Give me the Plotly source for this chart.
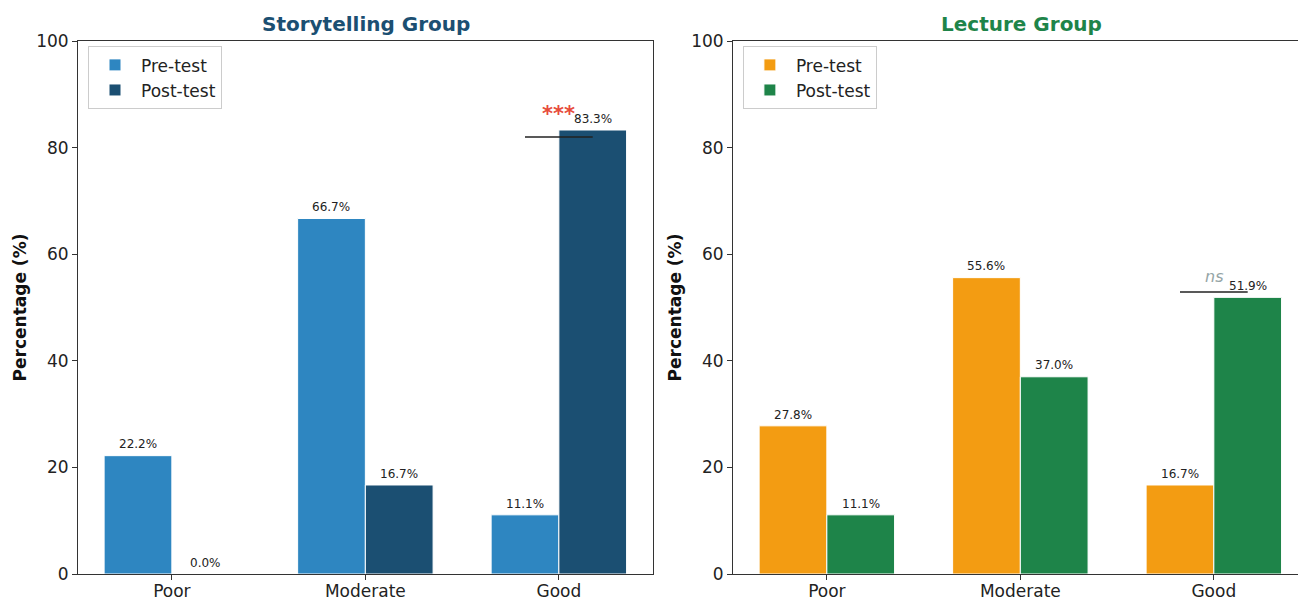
import plotly.graph_objects as go

# ---- data ----
categories = ["Poor", "Moderate", "Good"]
story_pre = [22.2, 66.7, 11.1]
story_post = [0.0, 16.7, 83.3]
lecture_pre = [27.8, 55.6, 16.7]
lecture_post = [11.1, 37.0, 51.9]
y_ticks = [0, 20, 40, 60, 80, 100]

panel_titles = ["Storytelling Group", "Lecture Group"]
series_names = ["Pre-test", "Post-test"]

# significance annotations: (category, line level, text level, label)
sig_category = ["Good", "Good"]
sig_line_level = [82.0, 52.9]
sig_text_level = [83.6, 53.6]
sig_labels = ["***", "ns"]

# ---- styles ----
FONT = "DejaVu Sans"
AX = "#333333"
colors = [("#2E86C1", "#1B4F72"), ("#F39C12", "#1E8449")]
title_colors = ["#1B4F72", "#1E8449"]
sig_styles = [dict(size=21, color="#E74C3C", bold=True, italic=False),
              dict(size=16, color="#95A5A6", bold=False, italic=True)]
BW = 0.35

idx = list(range(len(categories)))
fig = go.Figure()

panels = [(story_pre, story_post), (lecture_pre, lecture_post)]
axes = [("x", "y", "legend"), ("x2", "y2", "legend2")]
annotations = []

for p, ((pre, post), (xa, ya, lg)) in enumerate(zip(panels, axes)):
    for s, (vals, off) in enumerate([(pre, -BW), (post, 0.0)]):
        fig.add_trace(go.Bar(
            x=idx, y=vals, width=BW, offset=off,
            name=series_names[s], legend=lg,
            marker=dict(color=colors[p][s], line=dict(color="white", width=1)),
            xaxis=xa, yaxis=ya, showlegend=True,
        ))
        for i, v in zip(idx, vals):
            annotations.append(dict(
                x=i + off + BW / 2, y=v + 1, xref=xa, yref=ya,
                text=f"{v:.1f}%", showarrow=False, yanchor="bottom", yshift=-3,
                font=dict(size=12, color="#222222", family=FONT),
            ))
    # significance marker
    ci = categories.index(sig_category[p])
    fig.add_trace(go.Scatter(
        x=[ci - BW / 2, ci + BW / 2], y=[sig_line_level[p]] * 2,
        mode="lines", line=dict(color="#222222", width=1.6),
        xaxis=xa, yaxis=ya, showlegend=False, hoverinfo="skip",
    ))
    st = sig_styles[p]
    txt = sig_labels[p]
    if st["bold"]:
        txt = f"<b>{txt}</b>"
    if st["italic"]:
        txt = f"<i>{txt}</i>"
    annotations.append(dict(
        x=ci, y=sig_text_level[p], xref=xa, yref=ya, text=txt,
        showarrow=False, yanchor="bottom",
        font=dict(size=st["size"], color=st["color"], family=FONT),
    ))

# panel titles
title_x = [0.2357, 0.7735]
for t, tx, tc in zip(panel_titles, title_x, title_colors):
    annotations.append(dict(
        x=tx, y=1.0325, xref="paper", yref="paper", text=f"<b>{t}</b>",
        showarrow=False, yanchor="middle", xanchor="center",
        font=dict(size=20, color=tc, family=FONT),
    ))

xcommon = dict(tickvals=idx, ticktext=categories, showline=True, linecolor=AX,
               linewidth=1, mirror=True, ticks="outside", ticklen=5,
               tickcolor=AX, tickfont=dict(size=17, color="#222222"),
               ticklabelstandoff=-3,
               showgrid=False, zeroline=False, fixedrange=True, automargin=False)
ycommon = dict(range=[0, 100], tickvals=y_ticks, showline=True, linecolor=AX,
               linewidth=1, ticks="outside", ticklen=5, tickcolor=AX,
               tickfont=dict(size=17, color="#222222"), showgrid=False,
               zeroline=False, automargin=False,
               title=dict(text="<b>Percentage (%)</b>", standoff=5,
                          font=dict(size=17, color="#111111")))
legcommon = dict(xanchor="left", yanchor="top", y=0.99, bgcolor="white",
                 bordercolor="#cccccc", borderwidth=1,
                 font=dict(size=17, color="#222222", family=FONT),
                 itemwidth=42, tracegroupgap=2)

fig.update_layout(
    width=1298, height=600,
    margin=dict(l=78, r=0, t=41, b=26),
    plot_bgcolor="white", paper_bgcolor="white",
    font=dict(family=FONT, color="#222222"),
    barmode="overlay",
    xaxis=dict(domain=[0, 0.47107], range=[-0.485, 2.485], anchor="y", **xcommon),
    yaxis=dict(anchor="x", mirror=True, **ycommon),
    xaxis2=dict(domain=[0.53689, 1.0], range=[-0.485, 2.435], anchor="y2", **xcommon),
    yaxis2=dict(anchor="x2", mirror=False, **ycommon),
    legend=dict(x=0.0082, **legcommon),
    legend2=dict(x=0.545, **legcommon),
    annotations=annotations,
)

fig.write_html("out.html")
